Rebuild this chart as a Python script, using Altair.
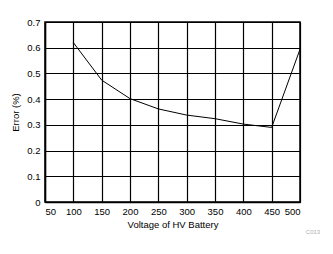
import altair as alt
import pandas as pd

voltage = [100, 150, 200, 250, 300, 350, 400, 450, 500]
error = [0.62, 0.474, 0.402, 0.362, 0.338, 0.324, 0.303, 0.29, 0.594]

df = pd.DataFrame({"v": voltage, "e": error})

FONT = "Liberation Sans"

line = alt.Chart(df).mark_line(color="black", strokeWidth=1, clip=True).encode(
    x=alt.X("v:Q", scale=alt.Scale(domain=[50, 500], nice=False),
            axis=alt.Axis(values=list(range(50, 501, 50)), title="Voltage of HV Battery",
                          titlePadding=4, labelPadding=4)),
    y=alt.Y("e:Q", scale=alt.Scale(domain=[0, 0.7], nice=False),
            axis=alt.Axis(values=[0, 0.1, 0.2, 0.3, 0.4, 0.5, 0.6, 0.7], title="Error (%)",
                          format="~g", titlePadding=6, labelPadding=5)),
)

note = alt.Chart(pd.DataFrame({"t": ["C013"]})).mark_text(
    font=FONT, fontSize=6, color="#b0b0b0", align="center", baseline="middle"
).encode(x=alt.value(268), y=alt.value(210), text="t:N")

chart = (line + note).properties(
    width=255, height=180,
    background="white",
    autosize=alt.AutoSizeParams(type="none"),
    padding={"left": 45, "top": 22, "right": 33, "bottom": 52},
).configure_view(stroke="black", strokeWidth=1.5).configure_axis(
    grid=True, gridColor="black", gridWidth=1.2, gridOpacity=1,
    domainColor="black", domainWidth=1.5, ticks=False,
    labelFont=FONT, labelFontSize=9.5, labelColor="black",
    titleFont=FONT, titleFontSize=9.5, titleFontWeight="normal", titleColor="black",
)

chart.save("out.html", embed_options={"renderer": "svg", "actions": False})
